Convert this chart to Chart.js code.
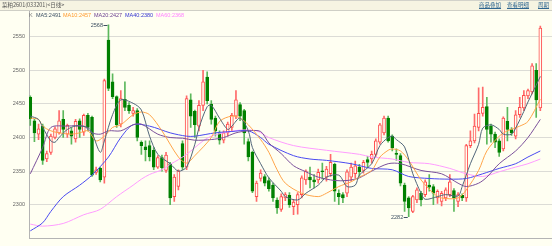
<!DOCTYPE html>
<html>
<head>
<meta charset="utf-8">
<script src="https://cdn.jsdelivr.net/npm/chart.js@4.4.0/dist/chart.umd.min.js"></script>
<style>
html,body{margin:0;padding:0;background:#fffff2;}
#wrap{position:relative;width:552px;height:246px;overflow:hidden;font-family:"Liberation Sans",Arial,"Noto Sans CJK SC",sans-serif;}
#chart{position:absolute;left:0;top:0;}
#head{position:absolute;left:0;top:0;width:552px;height:9px;background:#f6f4e2;border-top:1px solid #d2d2ca;border-bottom:1px solid #cfcfc6;font-size:5.5px;line-height:9px;color:#555;}
#head span{position:absolute;top:0;white-space:nowrap;}
#head .lnk{color:#2f6690;text-decoration:underline;font-family:"Noto Sans CJK SC",sans-serif;}
#title{left:2px;font-family:"Noto Sans CJK SC",sans-serif;}
#legend span{position:absolute;top:12px;font-size:5.5px;line-height:6px;white-space:nowrap;}
</style>
</head>
<body>
<div id="wrap">
  <canvas id="chart" width="552" height="246"></canvas>
  <div id="head">
    <span id="title">菜粕2601(033201)&lt;日线&gt;</span>
    <span class="lnk" style="left:479px">商品叠加</span>
    <span class="lnk" style="left:507px">查看明细</span>
    <span class="lnk" style="left:538px">周期</span>
  </div>
  <div id="legend"></div>
</div>
<script>
// daily candles
const open  = [2460,2425,2405,2417,2368,2378,2400,2407,2427,2405,2410,2398,2425,2408,2433,2430,2348,2354,2341,2545,
  2483,2461,2420,2457,2448,2436,2440,2393,2386,2388,2381,2356,2370,2351,2361,2312,2327,2391,2356,2456,
  2439,2417,2448,2490,2450,2429,2406,2396,2407,2415,2432,2449,2440,2394,2378,2312,2339,2342,2336,2329,
  2307,2293,2310,2314,2297,2300,2315,2337,2341,2337,2337,2350,2341,2346,2360,2317,2315,2317,2341,2346,
  2356,2351,2367,2368,2375,2393,2407,2429,2402,2376,2373,2329,2310,2290,2307,2317,2315,2329,2327,2310,
  2305,2310,2315,2321,2305,2314,2310,2388,2395,2415,2436,2446,2417,2405,2395,2383,2424,2412,2402,2434,
  2444,2462,2468,2500,2444]
const high  = [2462,2427,2420,2420,2380,2405,2416,2440,2440,2420,2415,2427,2428,2435,2436,2432,2356,2356,2487,2568,
  2495,2462,2470,2483,2452,2445,2443,2395,2395,2395,2385,2373,2374,2378,2363,2345,2352,2395,2462,2465,
  2441,2455,2500,2498,2455,2432,2410,2410,2423,2436,2470,2452,2442,2398,2380,2335,2352,2345,2340,2332,
  2310,2316,2318,2318,2308,2318,2343,2352,2356,2345,2353,2362,2357,2375,2362,2322,2318,2352,2362,2365,
  2360,2366,2372,2380,2398,2421,2432,2432,2404,2383,2376,2332,2312,2314,2325,2320,2337,2345,2330,2322,
  2320,2325,2345,2324,2318,2316,2390,2410,2435,2474,2475,2460,2420,2408,2398,2431,2445,2415,2440,2460,
  2470,2472,2510,2510,2566]
const low   = [2418,2394,2397,2360,2364,2375,2398,2405,2400,2400,2390,2393,2400,2403,2410,2342,2345,2334,2332,2470,
  2458,2415,2416,2440,2436,2432,2395,2375,2365,2365,2352,2354,2350,2348,2300,2305,2322,2352,2352,2415,
  2400,2410,2440,2450,2420,2402,2390,2392,2402,2410,2428,2425,2390,2365,2318,2305,2335,2328,2320,2305,
  2287,2290,2306,2296,2285,2286,2310,2330,2325,2325,2332,2338,2335,2342,2305,2300,2303,2312,2335,2340,
  2342,2347,2355,2362,2372,2390,2404,2393,2380,2366,2328,2290,2282,2288,2303,2298,2312,2320,2300,2302,
  2298,2306,2312,2290,2297,2306,2305,2385,2392,2410,2432,2390,2393,2385,2372,2380,2395,2403,2398,2430,
  2440,2458,2465,2430,2440]
const close = [2428,2407,2413,2366,2376,2402,2413,2425,2412,2418,2402,2424,2412,2433,2415,2344,2352,2337,2485,2473,
  2461,2419,2458,2445,2440,2440,2400,2388,2382,2371,2356,2370,2355,2374,2310,2341,2350,2356,2458,2432,
  2419,2448,2483,2455,2427,2410,2396,2407,2420,2433,2456,2432,2407,2371,2320,2332,2347,2332,2324,2310,
  2295,2312,2315,2300,2304,2315,2340,2350,2337,2334,2348,2349,2353,2363,2320,2312,2310,2349,2356,2358,
  2349,2363,2363,2375,2395,2419,2429,2395,2385,2375,2332,2305,2295,2312,2322,2307,2334,2326,2317,2320,
  2317,2322,2334,2310,2315,2310,2388,2395,2417,2436,2445,2412,2405,2393,2378,2429,2412,2407,2434,2445,
  2463,2470,2507,2456,2563]

// moving averages as [candle index, value]
const ma5 = [[0,2432],[2,2427],[3,2415],[5,2395],[6,2393],[7,2400],[9,2412],[11,2417],[14,2415],[15,2407],
  [17,2378],[18,2395],[20,2434],[22,2456],[25,2451],[27,2441],[29,2402],[31,2375],[34,2361],[36,2350],
  [38,2356],[40,2390],[41,2414],[43,2446],[44,2448],[46,2429],[48,2412],[49,2417],[51,2429],[53,2410],
  [54,2385],[56,2361],[58,2340],[61,2320],[62,2312],[65,2307],[67,2317],[70,2329],[72,2341],[75,2344],
  [77,2327],[79,2329],[80,2344],[83,2361],[85,2388],[87,2400],[88,2402],[89,2397],[91,2386],[93,2346],
  [95,2317],[96,2308],[99,2312],[101,2315],[104,2313],[105,2327],[107,2361],[109,2390],[110,2414],[112,2419],
  [114,2412],[115,2405],[117,2405],[118,2414],[120,2439],[121,2453],[123,2478],[124,2491]]
const ma10 = [[0,2429],[2,2427],[3,2417],[5,2410],[7,2407],[10,2405],[12,2407],[14,2410],[16,2395],[18,2402],
  [20,2415],[22,2419],[25,2434],[27,2438],[29,2434],[32,2410],[36,2371],[38,2362],[40,2373],[44,2400],
  [46,2424],[49,2432],[51,2429],[53,2419],[56,2397],[58,2378],[60,2352],[62,2332],[66,2317],[70,2312],
  [72,2317],[75,2327],[78,2334],[80,2341],[83,2351],[85,2371],[87,2381],[88,2383],[90,2380],[92,2366],
  [95,2337],[98,2317],[100,2310],[104,2310],[106,2322],[109,2351],[111,2380],[114,2402],[116,2410],[119,2417],
  [121,2424],[124,2457]]
const ma20 = [[0,2346],[3,2385],[5,2415],[9,2417],[13,2417],[15,2407],[17,2405],[19,2410],[22,2410],[25,2419],
  [27,2420],[31,2405],[34,2400],[37,2399],[40,2396],[44,2397],[47,2400],[50,2407],[53,2410],[56,2409],
  [58,2392],[61,2376],[64,2358],[67,2349],[70,2341],[74,2336],[77,2336],[80,2340],[83,2350],[87,2361],
  [90,2361],[95,2351],[100,2346],[104,2332],[106,2327],[109,2332],[111,2341],[114,2361],[118,2380],[121,2400],
  [124,2427]]
const ma40 = [[0,2261],[3,2273],[5,2290],[8,2312],[12,2329],[15,2344],[19,2371],[22,2400],[25,2419],[29,2417],
  [34,2407],[38,2402],[40,2402],[45,2407],[49,2409],[53,2410],[56,2400],[58,2390],[64,2373],[68,2368],
  [72,2366],[78,2361],[83,2354],[88,2352],[92,2342],[97,2339],[102,2338],[106,2339],[110,2346],[114,2354],
  [118,2361],[121,2371],[124,2380]]
const ma60 = [[0,2271],[3,2268],[8,2272],[13,2285],[17,2293],[21,2312],[25,2329],[27,2338],[29,2345],[32,2352],
  [34,2360],[36,2367],[38,2375],[40,2385],[42,2395],[44,2402],[47,2407],[51,2411],[55,2410],[58,2400],
  [64,2388],[72,2381],[80,2375],[83,2371],[88,2368],[92,2363],[97,2361],[102,2354],[106,2346],[110,2342],
  [114,2349],[118,2356],[121,2361],[124,2368]]

const yTicks = [2300,2350,2400,2450,2500,2550]

const maDefs = [
  {name:'MA5',  pts:ma5,  line:'#52667a', text:'#3d5063', left:36},
  {name:'MA10', pts:ma10, line:'#ffa54a', text:'#ff9a2e', left:63},
  {name:'MA20', pts:ma20, line:'#7a4f9a', text:'#6a3d8f', left:94},
  {name:'MA40', pts:ma40, line:'#4a4af0', text:'#3434d0', left:125},
  {name:'MA60', pts:ma60, line:'#ff9cff', text:'#ff80ff', left:156},
]

// legend row
const legend = document.getElementById('legend')
const k = document.createElement('span')
k.textContent = 'K'; k.style.left = '29px'; k.style.color = '#777'
legend.appendChild(k)
maDefs.forEach(m=>{
  const s = document.createElement('span')
  s.textContent = m.name + ':' + m.pts[m.pts.length-1][1]
  s.style.left = m.left + 'px'
  s.style.color = m.text
  legend.appendChild(s)
})

const UP = '#ff4d4d', DOWN = '#008000', BG = '#fffff2'
const isUp = open.map((o,i)=> close[i] >= o)

// high / low marks
const marks = {
  id:'marks',
  afterDatasetsDraw(chart){
    const {ctx, scales:{x, y}} = chart
    const iMax = high.indexOf(Math.max(...high))
    const iMin = low.indexOf(Math.min(...low))
    ctx.save()
    ctx.font = '5.5px "Liberation Sans"'
    ctx.fillStyle = '#3d4f60'
    ctx.strokeStyle = '#3d4f60'
    ctx.lineWidth = 1
    ctx.textAlign = 'right'
    ctx.textBaseline = 'middle'
    ;[[iMax, high[iMax]], [iMin, low[iMin]]].forEach(([i,v])=>{
      const px = x.getPixelForValue(i), py = Math.round(y.getPixelForValue(v)) + 0.5
      ctx.beginPath(); ctx.moveTo(px-5, py); ctx.lineTo(px-1, py); ctx.stroke()
      ctx.fillText(String(v), px-5.5, py)
    })
    ctx.restore()
  }
}

const datasets = [
  {type:'bar', data: high.map((h,i)=>({x:i, y:[low[i], h]})),
   backgroundColor: isUp.map(u=> u ? '#ff6a6a' : '#5cb85c'),
   barThickness:1, grouped:false, borderWidth:0, order:3},
  {type:'bar', data: open.map((o,i)=>({x:i, y:[o, close[i]]})),
   backgroundColor: isUp.map(u=> u ? BG : DOWN),
   borderColor: isUp.map(u=> u ? UP : DOWN),
   borderWidth:1, borderSkipped:false, barThickness:3, minBarLength:1, grouped:false, order:2},
]
maDefs.forEach(m=>{
  datasets.push({type:'line', data: m.pts.map(([i,v])=>({x:i, y:v})),
    borderColor:m.line, borderWidth:1, pointRadius:0, tension:0.3, order:1})
})

new Chart(document.getElementById('chart'), {
  type:'bar',
  data:{datasets},
  options:{
    responsive:false,
    animation:false,
    layout:{padding:{top:11, bottom:3, left:0, right:0}},
    plugins:{legend:{display:false}, tooltip:{enabled:false}},
    scales:{
      x:{type:'linear', min:-0.32, max:126.84, offset:false,
         grid:{display:false, drawTicks:false},
         ticks:{display:false},
         border:{display:true, color:'#b4b4b4'}},
      y:{min:2249.3, max:2588.5, position:'left',
         afterFit(s){ s.width = 29 },
         afterBuildTicks(s){ s.ticks = yTicks.map(v=>({value:v})) },
         grid:{color:'#dcdcd6', drawTicks:false},
         border:{display:true, color:'#b4b4b4'},
         ticks:{color:'#666', padding:4, font:{size:5.5, family:'Liberation Sans'},
                callback:v=> String(v)}}
    }
  },
  plugins:[marks]
})
</script>
</body>
</html>
